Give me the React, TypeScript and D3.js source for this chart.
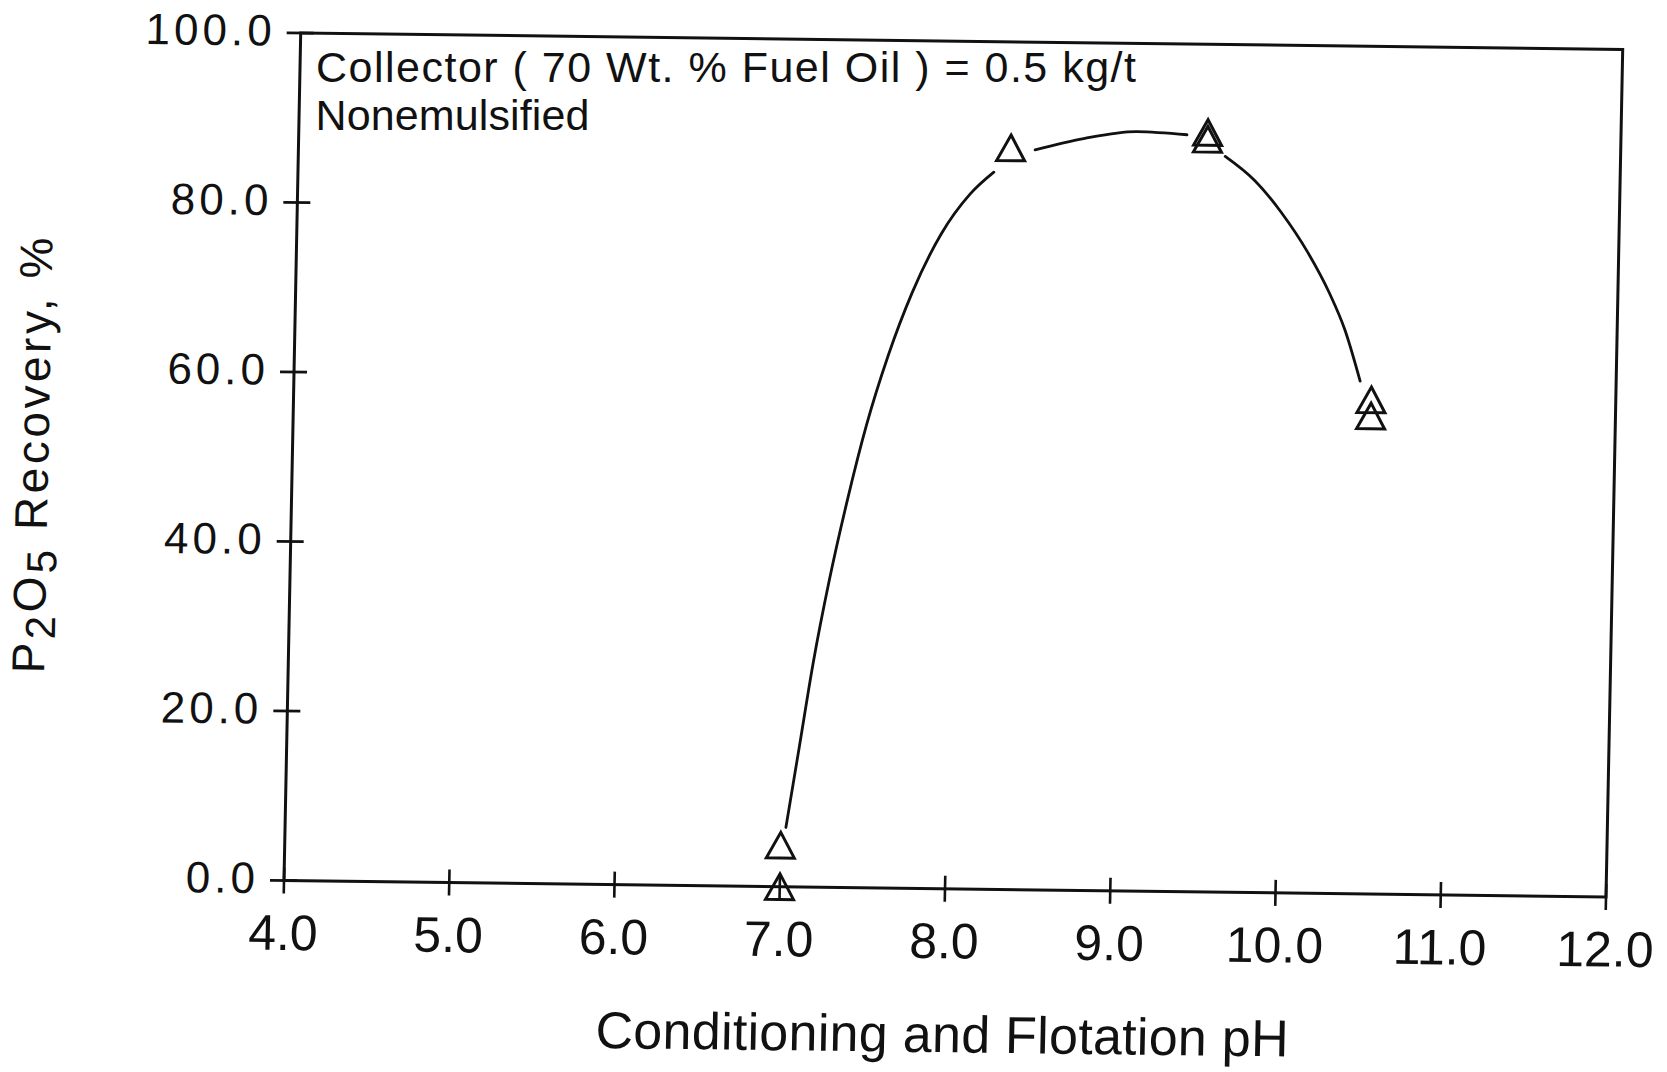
import React from 'react';
import * as d3 from 'd3';

// ---- data ----
const xTicks = [4, 5, 6, 7, 8, 9, 10, 11, 12];
const yTicks = [0, 20, 40, 60, 80, 100];
const pointPH = [7.0, 7.0, 8.31, 9.5, 9.5, 10.52, 10.52];
const pointRecovery = [4.9, 0.0, 87.5, 89.6, 88.8, 58.3, 56.4];
// fitted curve, drawn in pieces with gaps around the markers
const curveRise = [
  [7.03, 7.0], [7.1, 16.3], [7.176, 26.5], [7.264, 36.3], [7.363, 45.7], [7.47, 54.6],
  [7.591, 62.7], [7.731, 70.3], [7.898, 77.2], [8.07, 82.0], [8.21, 84.6],
];
const curveTop = [[8.457, 87.3], [8.75, 88.7], [9.071, 89.6], [9.374, 89.3]];
const curveFall = [
  [9.608, 86.8], [9.789, 84.0], [9.953, 80.3], [10.119, 75.6], [10.253, 70.9], [10.353, 66.5], [10.451, 60.5],
];
const noteLines = ['Collector ( 70 Wt. % Fuel Oil ) = 0.5 kg/t', 'Nonemulsified'];
const xTitle = 'Conditioning and Flotation pH';

const W = 1322;
const H = 847.5;
const INK = '#111';
const FONT = '"Liberation Sans", Arial, sans-serif';

export default function App() {
  const x = d3.scaleLinear().domain([4, 12]).range([0, W]);
  const y = d3.scaleLinear().domain([0, 100]).range([H, 0]);
  const line = d3
    .line<number[]>()
    .x((d) => x(d[0]))
    .y((d) => y(d[1]))
    .curve(d3.curveMonotoneX);
  const tri = 'M0,-12.8 L14,12.8 L-14,12.8 Z';
  const fmt = d3.format('.1f');

  return (
    <svg
      width={1667}
      height={1072}
      style={{ position: 'absolute', left: 0, top: 0, background: '#fff' }}
      fontFamily={FONT}
    >
      <rect x={0} y={0} width={1667} height={1072} fill="#fff" />
      <g transform="matrix(1,0.01248,-0.0197,1,300.7,33)" fill="none" stroke={INK}>
        {/* frame */}
        <path d={`M0,0H${W}V${H}H0Z`} strokeWidth={3} />
        {/* x ticks */}
        {xTicks.map((t) => (
          <line key={'xt' + t} x1={x(t)} x2={x(t)} y1={H - 13} y2={H + 13} strokeWidth={2.6} />
        ))}
        {/* y ticks */}
        {yTicks.map((t) => (
          <line key={'yt' + t} x1={-14} x2={13} y1={y(t)} y2={y(t)} strokeWidth={2.6} />
        ))}
        {/* x tick labels */}
        {xTicks.map((t) => (
          <text
            key={'xl' + t}
            x={x(t)}
            y={H + 69.5}
            textAnchor="middle"
            fontSize={50}
            fill={INK}
            stroke="none"
          >
            {fmt(t)}
          </text>
        ))}
        {/* y tick labels */}
        {yTicks.map((t) => (
          <text
            key={'yl' + t}
            x={-25}
            y={y(t) + 13}
            textAnchor="end"
            fontSize={44}
            letterSpacing={4}
            fill={INK}
            stroke="none"
          >
            {fmt(t)}
          </text>
        ))}
        {/* fitted curve */}
        {[curveRise, curveTop, curveFall].map((seg, i) => (
          <path key={'c' + i} d={line(seg) || ''} strokeWidth={2.8} strokeLinecap="round" />
        ))}
        {/* markers */}
        {pointPH.map((p, i) => (
          <path
            key={'m' + i}
            d={tri}
            transform={`translate(${x(p)},${y(pointRecovery[i])})`}
            strokeWidth={3}
            strokeLinejoin="miter"
          />
        ))}
        {/* x title */}
        <text x={x(8)} y={1011} textAnchor="middle" fontSize={52} fill={INK} stroke="none" textLength={693} lengthAdjust="spacing">
          {xTitle}
        </text>
        {/* y title */}
        <text
          transform="translate(-244,424) rotate(-90)"
          textAnchor="middle"
          fontSize={46}
          letterSpacing={3.5}
          fill={INK}
          stroke="none"
        >
          P<tspan dy={10} fontSize={42}>2</tspan>
          <tspan dy={-10}>O</tspan>
          <tspan dy={10} fontSize={42}>5</tspan>
          <tspan dy={-10}> Recovery, %</tspan>
        </text>
      </g>
      {/* annotation (kept horizontal) */}
      <text x={316} y={81.5} fontSize={43} fill={INK} textLength={820} lengthAdjust="spacing">
        {noteLines[0]}
      </text>
      <text x={315.5} y={130} fontSize={43} fill={INK} textLength={274} lengthAdjust="spacing">
        {noteLines[1]}
      </text>
    </svg>
  );
}
